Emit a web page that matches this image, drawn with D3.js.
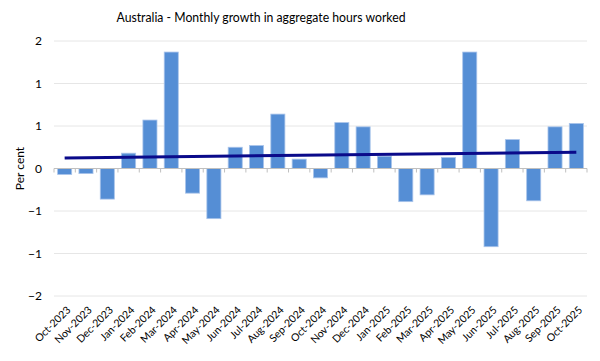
<!DOCTYPE html>
<html><head><meta charset="utf-8">
<script src="https://cdn.jsdelivr.net/npm/d3@7"></script>
<style>body{margin:0;background:#fff}svg{display:block}</style>
</head><body>
<script>
const months = ["Oct-2023","Nov-2023","Dec-2023","Jan-2024","Feb-2024","Mar-2024","Apr-2024","May-2024","Jun-2024","Jul-2024","Aug-2024","Sep-2024","Oct-2024","Nov-2024","Dec-2024","Jan-2025","Feb-2025","Mar-2025","Apr-2025","May-2025","Jun-2025","Jul-2025","Aug-2025","Sep-2025","Oct-2025"];
const growth = [-0.07,-0.06,-0.36,0.18,0.57,1.37,-0.29,-0.59,0.25,0.27,0.64,0.11,-0.11,0.54,0.49,0.145,-0.39,-0.31,0.13,1.37,-0.92,0.34,-0.38,0.49,0.53];
const yTicks = [-1.5,-1,-0.5,0,0.5,1,1.5];
const title = "Australia - Monthly growth in aggregate hours worked";
const yLabel = "Per cent";

const W=600,H=361;
const m={left:54,right:13,top:41,bottom:65};
const svg=d3.select("body").append("svg").attr("width",W).attr("height",H);
const font="Lato, 'Open Sans', sans-serif";
const x=d3.scaleBand().domain(months).range([m.left,W-m.right]).paddingInner(0.34).paddingOuter(0.17);
const y=d3.scaleLinear().domain([-1.5,1.5]).range([H-m.bottom,m.top]);

// gridlines
svg.append("g").selectAll("line").data(yTicks.filter(d=>d!==0)).join("line")
  .attr("x1",m.left).attr("x2",W-m.right).attr("y1",d=>y(d)).attr("y2",d=>y(d))
  .attr("stroke","#e6e6e6").attr("stroke-width",1);

// y axis labels
const yAxis=d3.axisLeft(y).tickValues(yTicks).tickFormat(d=>d3.format(".0f")(Math.sign(d)*Math.round(Math.abs(d)))).tickSize(0).tickPadding(0);
const gy=svg.append("g").attr("transform",`translate(${m.left-12},0)`).call(yAxis);
gy.select(".domain").remove();
gy.selectAll("text").attr("font-family",font).attr("font-size",12).attr("fill","#000");

// bars
svg.append("g").selectAll("rect").data(growth).join("rect")
  .attr("x",(d,i)=>x(months[i])).attr("width",x.bandwidth())
  .attr("y",d=>y(Math.max(0,d))).attr("height",d=>Math.abs(y(d)-y(0)))
  .attr("fill","#558ed5").attr("stroke","#a9c4ea").attr("stroke-width",0.8);

// zero axis
svg.append("line").attr("x1",m.left).attr("x2",W-m.right).attr("y1",y(0)).attr("y2",y(0))
  .attr("stroke","#bfbfbf").attr("stroke-width",1);
const step=x.step();
const bounds=d3.range(months.length+1).map(i=>m.left+i*step);
svg.append("g").selectAll("line").data(bounds).join("line")
  .attr("x1",d=>d).attr("x2",d=>d).attr("y1",y(0)).attr("y2",y(0)+4)
  .attr("stroke","#bfbfbf");

// trend (least squares)
const n=growth.length, xs=d3.range(n);
const mx=d3.mean(xs), my=d3.mean(growth);
const slope=d3.sum(xs,(i)=>(i-mx)*(growth[i]-my))/d3.sum(xs,i=>(i-mx)**2);
const icpt=my-slope*mx;
const cx=i=>x(months[i])+x.bandwidth()/2;
svg.append("path").datum([0,n-1])
  .attr("d",d3.line().x(i=>cx(i)).y(i=>y(icpt+slope*i)))
  .attr("stroke","#0a0a8a").attr("stroke-width",3).attr("fill","none");

// x labels
svg.append("g").selectAll("text").data(months).join("text")
  .attr("transform",d=>`translate(${x(d)+x.bandwidth()/2+4},${H-m.bottom+12}) rotate(-45)`)
  .attr("text-anchor","end").attr("dy","0.35em")
  .attr("font-family",font).attr("font-size",10.5).attr("fill","#000").text(d=>d);

// title
svg.append("text").attr("x",261).attr("y",22).attr("text-anchor","middle")
  .attr("font-family",font).attr("font-size",13.5).attr("fill","#000")
  .attr("textLength",289).attr("lengthAdjust","spacingAndGlyphs").text(title);
// y label
svg.append("text").attr("transform",`translate(24,${y(0)}) rotate(-90)`).attr("text-anchor","middle")
  .attr("font-family",font).attr("font-size",12).attr("fill","#000").text(yLabel);
</script>
</body></html>
